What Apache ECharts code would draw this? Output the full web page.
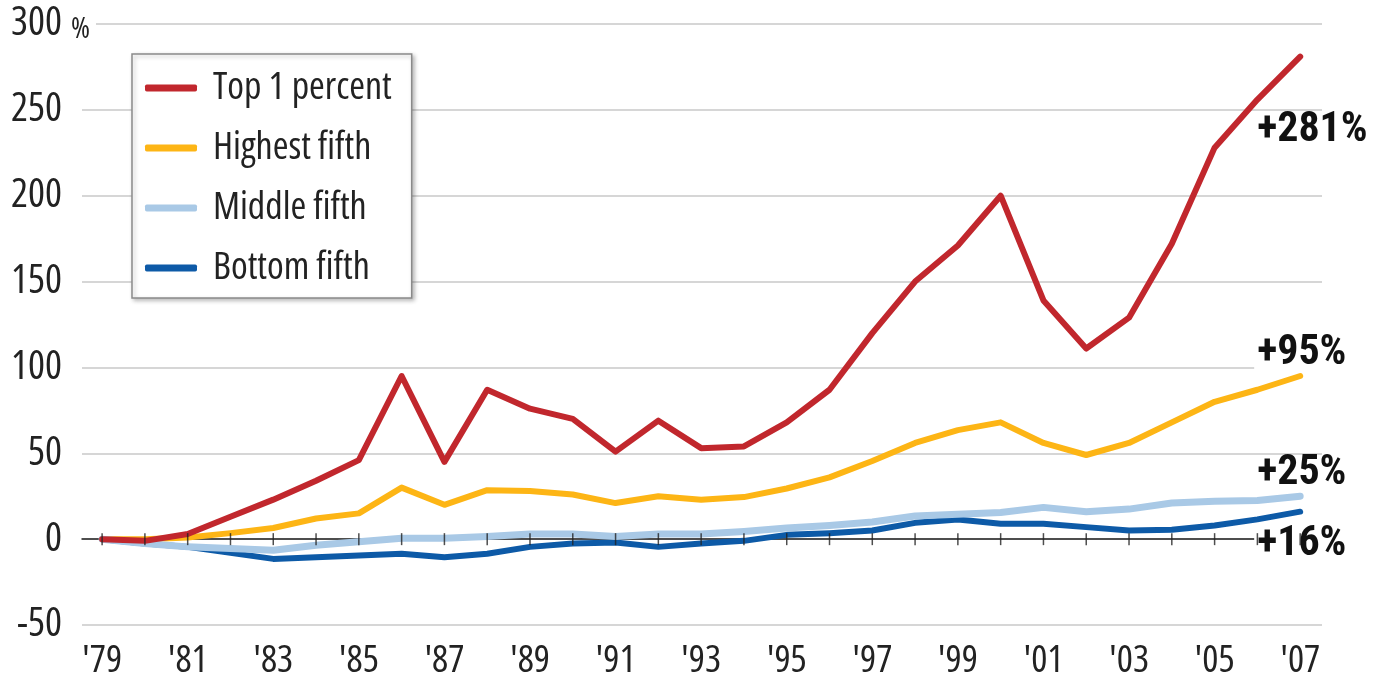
<!DOCTYPE html>
<html lang="en">
  <head>
    <meta charset="UTF-8" />
    <title>Income growth 1979-2007</title>
    <script src="https://cdn.jsdelivr.net/npm/echarts@6.0.0/dist/echarts.min.js"></script>
    <style>
      body { margin: 0; background: #fff; }
      #main { width: 1373px; height: 676px; }
    </style>
  </head>
  <body>
    <div id="main"></div>

    <script>
      var years = [1979, 1980, 1981, 1982, 1983, 1984, 1985, 1986, 1987, 1988, 1989, 1990, 1991, 1992, 1993,
        1994, 1995, 1996, 1997, 1998, 1999, 2000, 2001, 2002, 2003, 2004, 2005, 2006, 2007]

      // cumulative change since 1979, percent
      var top1 = [0, -1, 3, 13, 23, 34, 46, 95, 45, 87, 76, 70, 51, 69, 53, 54, 68, 87, 120, 150, 171, 200,
        139, 111, 129, 172, 228, 256, 281]
      var highest = [0, 0, 1, 3.5, 6.5, 12, 15, 30, 20, 28.5, 28, 26, 21, 25, 23, 24.5, 29.5, 36, 45.5, 56,
        63.5, 68, 56, 49, 56, 68, 80, 87, 95]
      var middle = [0, -2.5, -4.5, -5.5, -6.5, -3.5, -1.5, 0.5, 0.5, 1.5, 3, 3, 1.5, 3, 3, 4.5, 6.5, 8, 10,
        13.5, 14.5, 15.5, 18.5, 16, 17.5, 21, 22, 22.5, 25]
      var bottom = [0, -2.5, -4.5, -8, -11.5, -10.5, -9.5, -8.5, -10.5, -8.5, -4.5, -2.5, -2, -4.5, -2.5, -1,
        2.5, 3.5, 5, 9.5, 11.5, 9, 9, 7, 5, 5.5, 8, 11.5, 16]

      var labelYears = [1979, 1981, 1983, 1985, 1987, 1989, 1991, 1993, 1995, 1997, 1999, 2001, 2003, 2005, 2007]
      var labelText = ["'79", "'81", "'83", "'85", "'87", "'89", "'91", "'93", "'95", "'97", "'99", "'01",
        "'03", "'05", "'07"]

      var ink = '#222'
      var font = 'Open Sans'

      function pairs(arr) {
        return years.map(function (y, i) { return [y, arr[i]] })
      }

      function makeSeries(name, arr, color, width, z, offset) {
        return {
          name: name,
          type: 'line',
          data: pairs(arr),
          showSymbol: false,
          symbol: 'none',
          z: z,
          lineStyle: { color: color, width: width, cap: 'round', join: 'round' },
          itemStyle: { color: color },
          endLabel: {
            show: true,
            formatter: function (p) { return '+' + p.value[1] + '%' },
            offset: offset,
            distance: 8,
            fontFamily: 'Roboto',
            fontStyle: 'condensed',
            fontSize: 42,
            fontWeight: 'bold',
            lineHeight: 32,
            color: '#111',
            backgroundColor: '#fff',
            padding: [0, 3]
          }
        }
      }

      var chart = echarts.init(document.getElementById('main'))

      var xMin = 1978.53
      var xMax = 2007.51

      var option = {
        animation: false,
        backgroundColor: '#fff',
        grid: { left: 82, right: 51, top: 24, bottom: 51, outerBoundsMode: 'none' },
        legend: {
          data: ['Top 1 percent', 'Highest fifth', 'Middle fifth', 'Bottom fifth'],
          orient: 'vertical',
          left: 132,
          top: 54,
          padding: [14, 20, 10, 13],
          itemGap: 20,
          itemWidth: 52,
          itemHeight: 7,
          icon: 'roundRect',
          backgroundColor: '#fff',
          borderColor: '#8a8a8a',
          borderWidth: 1.5,
          shadowBlur: 4,
          shadowColor: 'rgba(0,0,0,0.25)',
          shadowOffsetX: 2,
          shadowOffsetY: 2,
          textStyle: { fontFamily: font, fontStyle: 'condensed', fontSize: 38, color: ink, lineHeight: 40, padding: [0, 0, 0, 11] }
        },
        xAxis: [
          {
            // year labels along the bottom
            type: 'value',
            min: xMin,
            max: xMax,
            position: 'bottom',
            axisLine: { show: false, onZero: false },
            axisTick: { show: false },
            splitLine: { show: false },
            axisLabel: {
              customValues: labelYears,
              formatter: function (v) { return labelText[labelYears.indexOf(v)] },
              fontFamily: font,
              fontStyle: 'condensed',
              fontSize: 38,
              color: ink,
              margin: 17
            }
          },
          {
            // zero line
            type: 'value',
            min: xMin,
            max: xMax,
            position: 'bottom',
            axisLine: { show: true, onZero: true, lineStyle: { color: ink, width: 1.5 } },
            axisTick: { show: false },
            axisLabel: { show: false },
            splitLine: { show: false }
          }
        ],
        yAxis: {
          type: 'value',
          min: -50,
          max: 300,
          interval: 50,
          axisLine: { show: false },
          axisTick: { show: false },
          splitLine: { lineStyle: { color: '#c8c8c8', width: 1.5 } },
          axisLabel: {
            margin: -14,
            formatter: function (v) {
              return v === 300 ? '{n|' + v + '}{pc|%}' : '{n|' + v + '}{p|}'
            },
            rich: {
              n: { fontFamily: font, fontStyle: 'condensed', fontSize: 40, color: ink },
              p: { width: 24, padding: [0, 6, 0, 4] },
              pc: {
                width: 24, padding: [10, 6, 0, 4], fontFamily: font, fontStyle: 'condensed', fontSize: 29,
                color: ink, backgroundColor: '#fff', verticalAlign: 'bottom'
              }
            }
          }
        },
        series: [
          makeSeries('Top 1 percent', top1, '#c1272d', 6, 6, [-54, 74]),
          makeSeries('Highest fifth', highest, '#fdb515', 6, 4, [-54, -23]),
          makeSeries('Middle fifth', middle, '#a9c9e6', 7, 5, [-54, -23]),
          makeSeries('Bottom fifth', bottom, '#0d5aa7', 6, 3, [-54, 33]),
          {
            // "+" ticks on the zero line, one per year
            type: 'scatter',
            data: years.map(function (y) { return [y, 0] }),
            symbol: 'rect',
            symbolSize: [1.5, 12],
            itemStyle: { color: ink },
            silent: true,
            z: 8
          }
        ]
      }

      chart.setOption(option)
    </script>
  </body>
</html>
